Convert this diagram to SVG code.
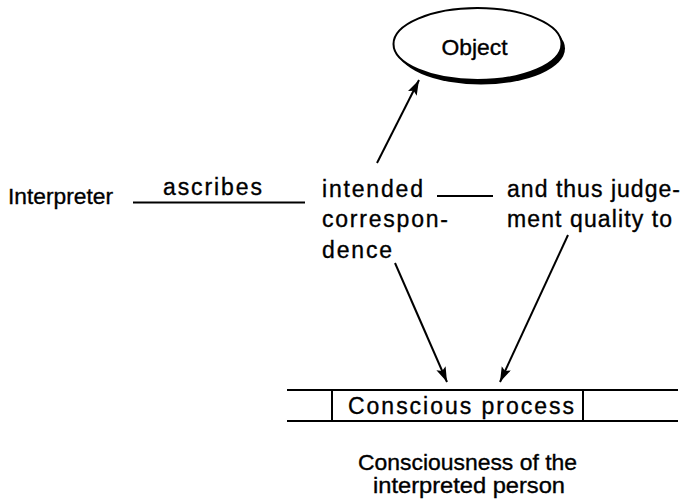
<svg xmlns="http://www.w3.org/2000/svg" width="692" height="503" viewBox="0 0 692 503">
  <defs>
    <marker id="arrow" markerUnits="userSpaceOnUse" markerWidth="16" markerHeight="11" refX="15" refY="5" orient="auto">
      <path d="M0,0 L15,5 L0,10 L3,5 z" fill="#000"/>
    </marker>
  </defs>
  <style>
    text { font-family: "Liberation Sans", Arial, sans-serif; font-size: 22px; fill: #000; stroke: #000; stroke-width: 0.35; }
    .w { font-size: 23px; }
    .ln { stroke: #000; stroke-width: 2; fill: none; }
    .ar { stroke: #000; stroke-width: 2; fill: none; marker-end: url(#arrow); }
  </style>
  <rect width="692" height="503" fill="#fff"/>

  <g id="object">
    <ellipse cx="481" cy="48.5" rx="84" ry="36" fill="#000"/>
    <ellipse cx="477.5" cy="44" rx="84" ry="36" fill="#fff" stroke="#000" stroke-width="2"/>
    <text x="441.5" y="55" textLength="66" lengthAdjust="spacingAndGlyphs">Object</text>
  </g>

  <g id="interpreter">
    <text x="8" y="204" textLength="105" lengthAdjust="spacingAndGlyphs">Interpreter</text>
  </g>

  <g id="ascribes">
    <text class="w" x="163" y="195" textLength="99" lengthAdjust="spacing">ascribes</text>
  </g>

  <g id="intended-correspondence">
    <text class="w" x="322" y="196.5" textLength="101" lengthAdjust="spacing">intended</text>
    <text class="w" x="322" y="226.5" textLength="126" lengthAdjust="spacing">correspon-</text>
    <text class="w" x="322" y="258" textLength="70" lengthAdjust="spacing">dence</text>
  </g>

  <g id="judgement-quality">
    <text class="w" x="507" y="196.5" textLength="173" lengthAdjust="spacing">and thus judge-</text>
    <text class="w" x="507" y="226.5" textLength="165" lengthAdjust="spacing">ment quality to</text>
  </g>

  <g id="consciousness">
    <line class="ln" x1="287" y1="390" x2="678" y2="390"/>
    <line class="ln" x1="287" y1="421" x2="678" y2="421"/>
    <line class="ln" x1="332" y1="390" x2="332" y2="421"/>
    <line class="ln" x1="583" y1="390" x2="583" y2="421"/>
    <text class="w" x="348" y="414" textLength="226" lengthAdjust="spacing">Conscious process</text>
  </g>

  <g id="consciousness-label">
    <text x="358" y="470" textLength="219" lengthAdjust="spacingAndGlyphs">Consciousness of the</text>
    <text x="373" y="493" textLength="192" lengthAdjust="spacingAndGlyphs">interpreted person</text>
  </g>

  <g id="connectors">
    <line class="ln" x1="133" y1="202.5" x2="305" y2="202.5"/>
    <line class="ln" x1="437" y1="196" x2="493" y2="196"/>
    <line class="ar" x1="377" y1="163" x2="419" y2="80"/>
    <line class="ar" x1="395" y1="263" x2="447" y2="382"/>
    <line class="ar" x1="568" y1="235" x2="500" y2="382"/>
  </g>
</svg>
